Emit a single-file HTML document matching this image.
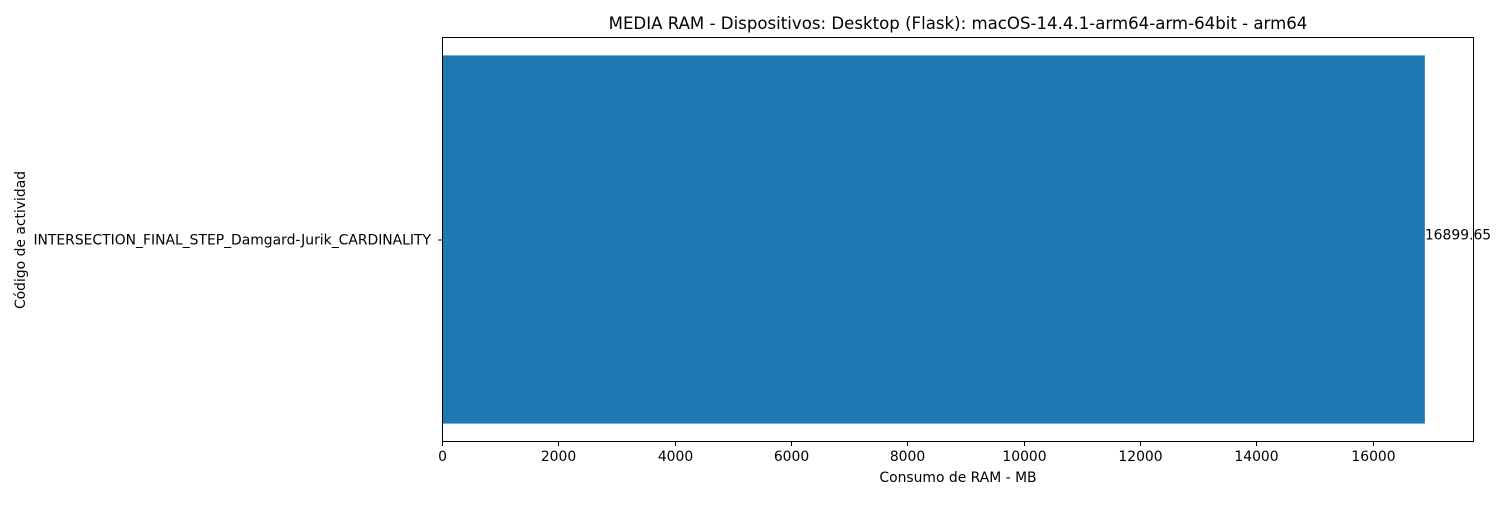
<!DOCTYPE html>
<html><head><meta charset="utf-8"><style>
body{margin:0;background:#fff;}
svg text{font-family:"DejaVu Sans","Liberation Sans",sans-serif;fill:#000;}
</style></head><body>
<svg id="chart" width="1500" height="500" xmlns="http://www.w3.org/2000/svg">
<rect width="1500" height="500" fill="#fff"/>
<text x="958" y="29" font-size="16.6" text-anchor="middle">MEDIA RAM - Dispositivos: Desktop (Flask): macOS-14.4.1-arm64-arm-64bit - arm64</text>
<g id="bars"></g>
<rect x="442.5" y="37.5" width="1031" height="404" fill="none" stroke="#000" stroke-width="1"/>
<g id="xticks"></g>
<g id="yticks"></g>
<text x="958" y="482" font-size="13.9" text-anchor="middle">Consumo de RAM - MB</text>
<text x="25" y="240" font-size="13.9" text-anchor="middle" transform="rotate(-90 25 240)">Código de actividad</text>
</svg>
<script>
const categories = ["INTERSECTION_FINAL_STEP_Damgard-Jurik_CARDINALITY"];
const values = [16899.65];
const valueLabels = ["16899.65"];
const xTicks = [0,2000,4000,6000,8000,10000,12000,14000,16000];

const NS="http://www.w3.org/2000/svg";
const L=442,R=1474,T=37,B=442;
const xMax=Math.max(...values)*1.05;
const xs=v=>L+(v/xMax)*(R-L);
const n=categories.length;
const pad=0.05*(n-1+0.8);
const ys=v=>B-((v-(-0.4-pad))/((n-1+0.4+pad)-(-0.4-pad)))*(B-T);
function mk(t,a,p){const e=document.createElementNS(NS,t);for(const k in a)e.setAttribute(k,a[k]);p.appendChild(e);return e;}
const gb=document.getElementById('bars'),gx=document.getElementById('xticks'),gy=document.getElementById('yticks');
categories.forEach((c,i)=>{
  const y1=ys(i+0.4),y2=ys(i-0.4);
  const r=mk('rect',{x:xs(0),y:y1,width:xs(values[i])-xs(0),height:y2-y1,fill:'#1f77b4'},gb);
  
  
  const t=mk('text',{x:xs(values[i]),y:ys(i),'font-size':13.9},gb);
  t.textContent=valueLabels[i];
  
  
  const yc=ys(i);
  const tk=mk('line',{x1:L-4,x2:L,y1:yc+0.5,y2:yc+0.5,stroke:'#000'},gy);
  
  
  const tl=mk('text',{x:L-11,y:yc+5,'font-size':13.9,'text-anchor':'end'},gy);
  tl.textContent=c;
  
  
});
xTicks.forEach(v=>{
  const x=Math.round(xs(v))+0.5;
  const tk=mk('line',{x1:x,x2:x,y1:B,y2:B+4,stroke:'#000'},gx);
  
  
  const tl=mk('text',{x:x,y:B+19,'font-size':13.9,'text-anchor':'middle'},gx);
  tl.textContent=v;
  
  
});
</script>
</body></html>
